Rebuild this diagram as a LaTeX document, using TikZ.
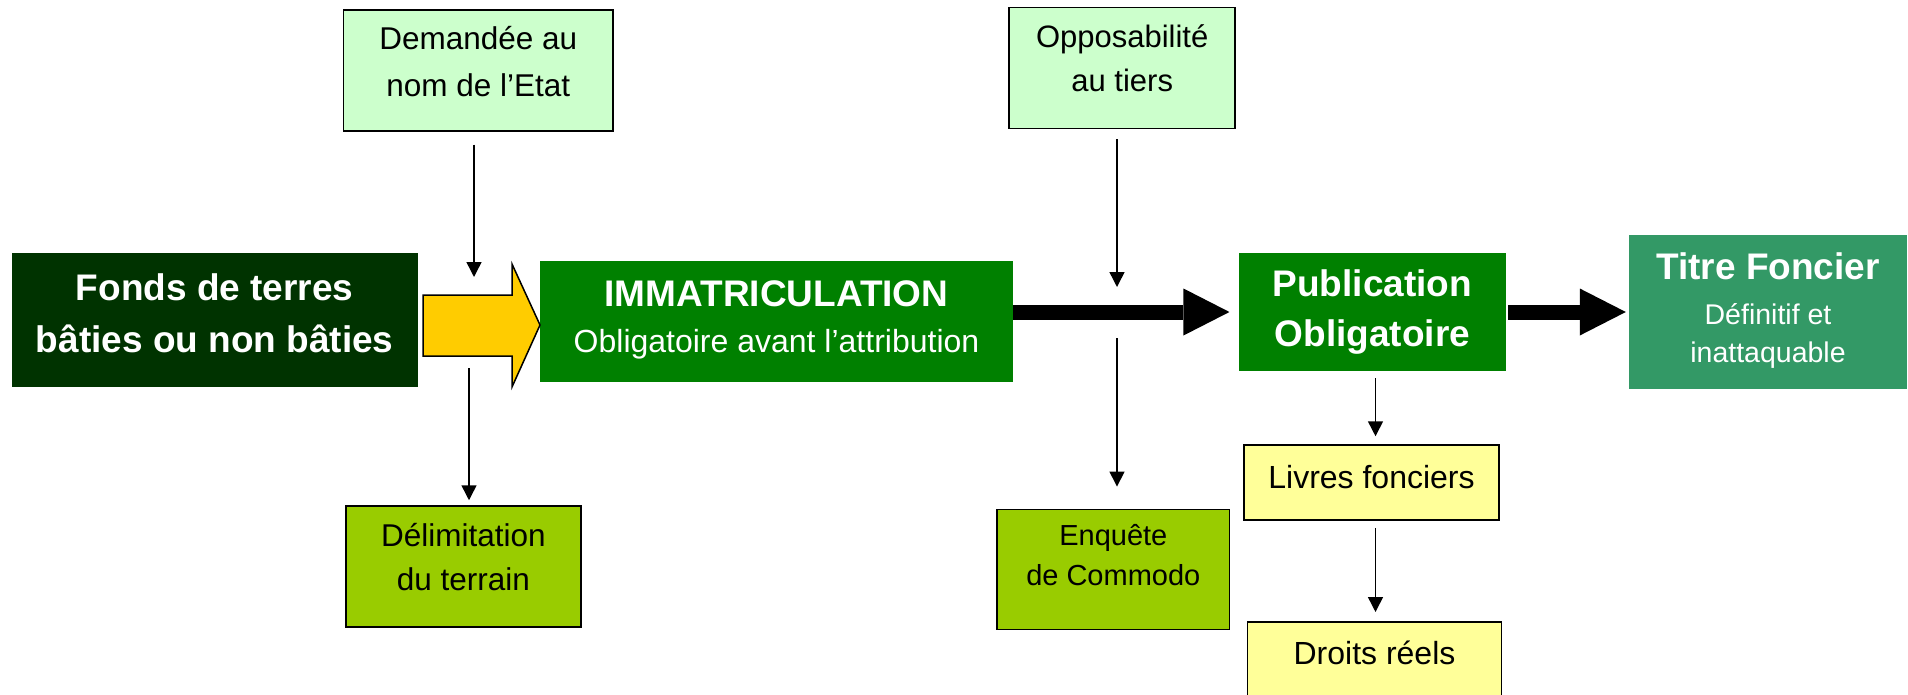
\documentclass[tikz,border=0pt]{standalone}
\usepackage{fontspec}
\setmainfont{Liberation Sans}
\usetikzlibrary{arrows.meta}
\definecolor{darkgreen}{RGB}{0,51,0}
\definecolor{midgreen}{RGB}{0,128,0}
\definecolor{seagreen}{RGB}{51,153,102}
\definecolor{palegreen}{RGB}{204,255,204}
\definecolor{limegreen}{RGB}{153,204,0}
\definecolor{paleyellow}{RGB}{255,255,153}
\definecolor{gold}{RGB}{255,204,0}
\tikzset{
  box/.style={rectangle, inner sep=0pt, align=center},
  pad/.style 2 args={execute at begin node={\rule{0pt}{#1pt}},
    execute at end node={\rule[-#2pt]{0pt}{0pt}}},
  darkbox/.style={box, text=white, font=\bfseries\fontsize{37}{52}\selectfont},
  lightbox/.style={box, draw, line width=1.5pt, font=\fontsize{32}{46}\selectfont},
  link/.style={line width=1.5pt, -{Triangle[length=15pt,width=15pt]}},
  bigarrow/.style={line width=15pt, -{Triangle[length=46pt,width=47pt,line width=0pt]}}
}
\begin{document}
\begin{tikzpicture}[x=1pt,y=-1pt]
\useasboundingbox (0,0) rectangle (1908,695);
\node[darkbox, fill=darkgreen, minimum width=406pt, minimum height=134pt, pad={30}{13.3}] (fonds) at (214.7,320) {Fonds de terres\\bâties ou non bâties};
\node[lightbox, fill=palegreen, font=\fontsize{31.5}{46.7}\selectfont, minimum width=269.5pt, minimum height=121pt, pad={30}{18}] (dem) at (478.2,70.5) {Demandée au\\nom de l’Etat};
\node[box, text=white, fill=midgreen, font=\fontsize{32}{46}\selectfont, minimum width=473pt, minimum height=121pt, pad={30}{10.6}] (immat) at (776.5,321.5) {{\bfseries\fontsize{37}{46}\selectfont IMMATRICULATION}\\Obligatoire avant l’attribution};
\node[lightbox, fill=limegreen, font=\fontsize{31.5}{44}\selectfont, minimum width=235pt, minimum height=121pt, pad={30}{19}] (delim) at (463.5,566.5) {Délimitation\\du terrain};
\node[lightbox, fill=palegreen, font=\fontsize{31}{44.4}\selectfont, minimum width=226pt, minimum height=121pt, pad={30}{19.6}] (opp) at (1122.2,67.8) {Opposabilité\\au tiers};
\node[lightbox, fill=limegreen, font=\fontsize{29}{40}\selectfont, minimum width=232.6pt, minimum height=120pt, pad={30}{28}] (enq) at (1113.3,569.3) {Enquête\\de Commodo};
\node[darkbox, fill=midgreen, font=\bfseries\fontsize{37}{50}\selectfont, minimum width=267.3pt, minimum height=118pt, pad={38}{8.4}] (publ) at (1372.3,312) {Publication\\Obligatoire};
\node[box, text=white, fill=seagreen, font=\fontsize{28.5}{38.7}\selectfont, minimum width=278pt, minimum height=154pt, pad={32}{8.7}] (titre) at (1768,312) {{\bfseries\fontsize{37}{39}\selectfont Titre Foncier}\\[6.3pt]Définitif et\\inattaquable};
\node[lightbox, fill=paleyellow, minimum width=255pt, minimum height=75pt, pad={30}{18.6}] (livres) at (1371.5,482.5) {Livres fonciers};
\node[lightbox, fill=paleyellow, minimum width=254.4pt, minimum height=98.3pt, pad={30}{43.3}] (droits) at (1374.5,670.9) {Droits réels};

\draw[line width=1.5pt, fill=gold] (423,295) -- (512,295) -- (512,264) -- (540,325) -- (512,387) -- (512,356) -- (423,356) -- cycle;
\coordinate (immin) at (474,277);
\coordinate (delout) at (469,368);
\coordinate (pubin) at (1117,287);
\coordinate (enqout) at (1117,338);
\coordinate (col) at (1375.5,0);

\draw[link, shorten <=13pt] (dem.south -| immin) -- (immin);
\draw[link, shorten >=5pt] (delout) -- (delout |- delim.north);
\draw[link, shorten <=10pt] (opp.south -| pubin) -- (pubin);
\draw[link, shorten >=22pt] (enqout) -- (enqout |- enq.north);
\draw[link, shorten <=7pt, shorten >=8pt] (publ.south -| col) -- (livres.north -| col);
\draw[link, shorten <=7pt, shorten >=9pt] (livres.south -| col) -- (droits.north -| col);
\draw[bigarrow, shorten >=9pt] (immat.east |- publ.west) -- (publ.west);
\draw[bigarrow, shorten <=2pt, shorten >=3pt] (publ.east) -- (titre.west);
\end{tikzpicture}
\end{document}
